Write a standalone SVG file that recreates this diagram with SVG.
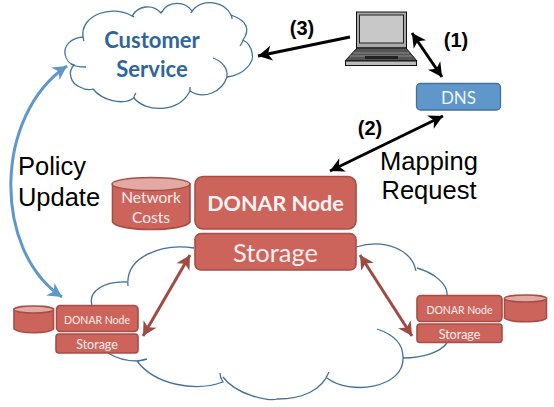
<svg xmlns="http://www.w3.org/2000/svg" width="554" height="407" viewBox="0 0 554 407">
<style>
text{font-family:"Lato","Noto Sans",sans-serif;text-anchor:middle}
.cloud{fill:#fff;stroke:#41719c;stroke-width:1.3}
.open{fill:none;stroke:#41719c;stroke-width:1.3}
.red{fill:#cd645c;stroke:#a64d47;stroke-width:1.6}
.top{fill:#e3a9a5;stroke:#a64d47;stroke-width:1.4}
.w{fill:#fbeeed}
.blk{font-family:"Liberation Sans",Arial,sans-serif;fill:#000}
.b{font-weight:700}
.ln{fill:none;stroke:#000;stroke-width:3}
.rd{fill:none;stroke:#a04a44;stroke-width:3}
.bl{fill:none;stroke:#5f97cb;stroke-width:3}
</style>
<defs>
<marker id="ak" markerUnits="userSpaceOnUse" markerWidth="18" markerHeight="18" refX="15" refY="9" orient="auto-start-reverse"><path d="M1 1.500L15 9L1 16.500L5 9Z" fill="#000"/></marker>
<marker id="ar" markerUnits="userSpaceOnUse" markerWidth="18" markerHeight="18" refX="15" refY="9" orient="auto-start-reverse"><path d="M1 1.500L15 9L1 16.500L5 9Z" fill="#a04a44"/></marker>
<marker id="ab" markerUnits="userSpaceOnUse" markerWidth="18" markerHeight="18" refX="15" refY="9" orient="auto-start-reverse"><path d="M1 1.500L15 9L1 16.500L5 9Z" fill="#5f97cb"/></marker>
</defs>
<g id="cloud-customer">
<path class="cloud" d="M83 37C70 38 64 46 65 54C66 60 70 64 74 65C67 72 71 84 80 87C85 90 90 90 93 89C102 100 122 106 134 98C145 112 178 114 190 91C204 100 222 92 227 77C244 75 255 62 252 53C251 47 247 42 243 40C250 30 248 21 231 15C225 2 203 -3 192 11C185 1 168 0 161 13C152 3 138 6 132 16C112 4 80 15 83 37Z"/>
<path class="open" d="M71 64C75 67 80 67 86 67M134 98C134 96 135 94 136 93M190 91C190 90 190 89 190 87M227 77C228 70 224 62 213 58M243 40C243 42 241 44 240 46M231 15C232 16 232 18 232 19M192 11C192 12 191 12 191 13M161 13C161 12 162 12 163 11M132 16C132 16 133 16 134 17M83 37C83 37 83 38 84 41"/>
<text x="152" y="48" font-size="22" font-weight="700" fill="#2f659b">Customer</text>
<text x="152" y="77" font-size="22" font-weight="700" fill="#2f659b">Service</text>
</g>
<g id="cloud-network">
<path class="open" d="M194 248C163 243 125 256 128 286M127 282C103 281 88 292 92 305M108 353C116 358 126 361 137 361C139 361 143 360 147 359M137 361C155 385 195 392 223 382C221 379 220 376 220 373M223 377C236 395 270 402 277 399C303 399 322 390 329 372M327 378C350 396 405 388 403 357C403 343 392 334 377 329M403 358C424 358 440 352 447 343M356 247C385 238 412 250 416 271M417 268C435 273 448 285 447 295"/>
</g>
<g id="laptop">
<rect x="356.500" y="12" width="50" height="36" fill="#a9a9a9" stroke="#111" stroke-width="1"/>
<rect x="359.500" y="15" width="44" height="28" fill="#c8c8c8" stroke="#222" stroke-width="1"/>
<path d="M357 48H406L417 61H345Z" fill="#555" stroke="#111" stroke-width="1"/>
<path d="M353 53H409M350 56H412" stroke="#999" stroke-width="0.800"/>
<rect x="365" y="56" width="33" height="3" fill="#222"/>
<rect x="345.500" y="61" width="71" height="4.500" fill="#bbb" stroke="#111" stroke-width="1"/>
</g>
<g id="dns">
<rect x="416.500" y="83.500" width="84" height="26.500" rx="4" fill="#5f97cb" stroke="#41719c" stroke-width="1.300"/>
<text x="458.500" y="104" font-size="17" fill="#eef5fb">DNS</text>
</g>
<g id="network-costs">
<path class="red" d="M112.500 184V222C118 232 184 232 190 222V184Z"/>
<ellipse class="top" cx="151" cy="184" rx="39" ry="6.500"/>
<text class="w" x="151" y="203" font-size="15.500">Network</text>
<text class="w" x="151" y="223" font-size="15.500">Costs</text>
</g>
<g id="donar-node">
<rect class="red" x="195" y="176.500" width="161" height="52.500" rx="8"/>
<text x="275.500" y="211" font-size="21.500" font-weight="700" fill="#fdf3f2">DONAR Node</text>
</g>
<g id="storage">
<rect class="red" x="195" y="233.500" width="161" height="36.500" rx="6"/>
<text x="275.500" y="262" font-size="25.500" class="w">Storage</text>
</g>
<g id="left-site">
<path class="red" d="M14 309V329C20 334 48 334 53.500 329V309Z"/>
<ellipse class="top" cx="33.700" cy="309.500" rx="19.700" ry="3.500"/>
<rect class="red" x="56.500" y="305.500" width="81.500" height="26" rx="4"/>
<text class="w" x="97" y="324" font-size="10.500">DONAR Node</text>
<rect class="red" x="56" y="334" width="82" height="19" rx="3"/>
<text class="w" x="97" y="349" font-size="12.500">Storage</text>
</g>
<g id="right-site">
<path class="red" d="M504.500 298.500V318C510 323 542 323 546.500 318V298.500Z"/>
<ellipse class="top" cx="525.500" cy="298.500" rx="21" ry="3.500"/>
<rect class="red" x="417" y="295.500" width="85" height="26" rx="4"/>
<text class="w" x="459.500" y="314" font-size="10.500">DONAR Node</text>
<rect class="red" x="417" y="324" width="85" height="18.500" rx="3"/>
<text class="w" x="459.500" y="339" font-size="12.500">Storage</text>
</g>
<g id="connectors">
<path class="ln" marker-end="url(#ak)" d="M350 37L258 56"/>
<path class="ln" marker-start="url(#ak)" marker-end="url(#ak)" d="M412 33L442 77"/>
<path class="ln" marker-start="url(#ak)" marker-end="url(#ak)" d="M443 116L330 171"/>
<path class="bl" marker-start="url(#ab)" marker-end="url(#ab)" d="M67 66C-6 115 -8 250 62 297"/>
<path class="rd" marker-start="url(#ar)" marker-end="url(#ar)" d="M190 255L143 336"/>
<path class="rd" marker-start="url(#ar)" marker-end="url(#ar)" d="M360 255L412 336"/>
</g>
<g id="labels">
<text class="blk b" x="302" y="35" font-size="20">(3)</text>
<text class="blk b" x="456" y="47" font-size="20">(1)</text>
<text class="blk b" x="370" y="135" font-size="20">(2)</text>
<text class="blk" x="52" y="175" font-size="25.500">Policy</text>
<text class="blk" x="59" y="206" font-size="25.500">Update</text>
<text class="blk" x="429" y="170" font-size="25.500">Mapping</text>
<text class="blk" x="429" y="199" font-size="25.500">Request</text>
</g>
</svg>
